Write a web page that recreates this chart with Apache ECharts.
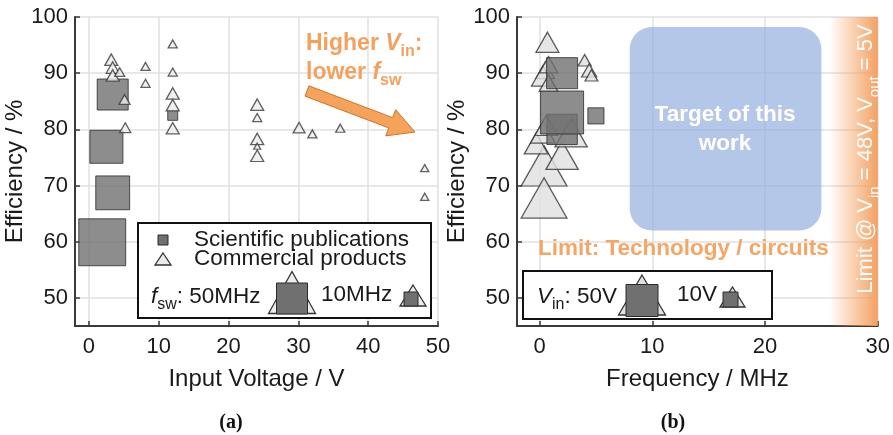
<!DOCTYPE html>
<html><head><meta charset="utf-8">
<script src="https://cdn.jsdelivr.net/npm/echarts/dist/echarts.min.js"></script>
<style>html,body{margin:0;padding:0;background:#fff}#c{width:893px;height:435px}</style>
</head><body><div id="c"></div>
<script>
// ---------- Panel (a): efficiency vs input voltage (marker size ~ f_sw) ----------
const sciVinA = [3.4, 2.5, 3.4, 1.9, 12.0];
const sciEffA = [86.2, 76.9, 68.7, 59.9, 82.5];
const sciFswA = [52, 59, 62, 119, 5.4];           // MHz
const comVinA = [3.2, 3.4, 3.4, 4.4, 5.1, 5.2, 8.1, 8.1, 12, 12, 12, 12, 12, 24.1, 24.1, 24.1, 24.1, 24.1, 30.1, 32, 36, 48.1, 48.1];
const comEffA = [92.4, 91.0, 89.6, 90.2, 85.3, 80.3, 91.2, 88.2, 95.2, 90.2, 86.4, 84.3, 80.2, 84.4, 82.1, 78.3, 77.0, 75.3, 80.3, 79.2, 80.2, 73.1, 68.0];
const comFswA = [3.9, 3.9, 3.9, 2.3, 2.8, 2.8, 1.9, 1.9, 1.9, 1.9, 3.9, 3.9, 3.9, 3.9, 1.9, 3.9, 1.1, 3.9, 3.3, 1.9, 1.9, 1.5, 1.5];

// ---------- Panel (b): efficiency vs switching frequency (marker size ~ Vin) ----------
const sciFreqB = [2.0, 2.0, 2.0, 5.0];
const sciEffB = [80.0, 83.0, 90.0, 82.4];
const sciVinB = [50, 100, 52, 14];                // V
const comFreqB = [0.4, 0.4, 2.0, 2.8, 0.7, 4.0, 4.4, 4.6, 0.5, 0.3, 0.8, 0.8, -0.3, 0.3, 0.6];
const comEffB = [73.5, 67.8, 75.4, 79.4, 95.5, 92.3, 90.5, 89.6, 90.5, 89.5, 91.5, 88.2, 77.5, 79.5, 80.7];
const comVinB = [48, 48, 24, 24, 12, 3.9, 5.2, 3.7, 8, 12, 8, 8, 13, 14, 12];

// target region (MHz, %) and technology limit band
const targetBox = [8, 25, 62, 98.2];
const limitBand = [25.7, 30, 45, 100];

const xTicksA = [0, 10, 20, 30, 40, 50];
const xTicksB = [0, 10, 20, 30];
const yTicks = [50, 60, 70, 80, 90, 100];

const FONT = '"Liberation Sans", Arial, sans-serif';
const ORANGE = '#f4a15d';
const zip3 = (a, b, c) => a.map((v, i) => [v, b[i], c[i]]);
const sqSize = v => 4.3 * Math.sqrt(v[2]);
const triSize = v => { const w = 6.6 * Math.sqrt(v[2]); return [w, 0.88 * w]; };

function xAxisCfg(gi, mx, name) {
  return {
    gridIndex: gi, type: 'value', min: -2, max: mx, minInterval: 10, maxInterval: 10,
    name: name, nameLocation: 'middle', nameGap: 41,
    nameTextStyle: { fontSize: 24, color: '#1a1a1a', fontFamily: FONT },
    axisLine: { show: true, onZero: false, lineStyle: { color: '#3a3a3a', width: 2 } },
    axisTick: { show: true, inside: true, length: 5, lineStyle: { color: '#3a3a3a', width: 1.5 } },
    axisLabel: { showMinLabel: false, fontSize: 22, color: '#1a1a1a', margin: 10, fontFamily: FONT },
    splitLine: { show: true, lineStyle: { color: '#e0e0e0', width: 1.5 } }
  };
}
function yAxisCfg(gi) {
  return {
    gridIndex: gi, type: 'value', min: 45, max: 100, minInterval: 10, maxInterval: 10,
    name: 'Efficiency / %', nameLocation: 'middle', nameGap: 48, nameRotate: 90,
    nameTextStyle: { fontSize: 24, color: '#1a1a1a', fontFamily: FONT },
    axisLine: { show: true, onZero: false, lineStyle: { color: '#3a3a3a', width: 2 } },
    axisTick: { show: true, inside: true, length: 5, lineStyle: { color: '#3a3a3a', width: 1.5 } },
    axisLabel: { showMinLabel: false, fontSize: 22, color: '#1a1a1a', margin: 7, fontFamily: FONT },
    splitLine: { show: true, lineStyle: { color: '#e0e0e0', width: 1.5 } }
  };
}

const sqStyle = { color: '#707070', borderColor: '#2b2b2b', borderWidth: 1 };
const triStyleA = { color: '#ececec', borderColor: '#3a3a3a', borderWidth: 1.3 };
const triStyleB = { color: '#e0e0e0', borderColor: '#333', borderWidth: 1.3 };

function rectItem(fillFn, r) {
  return function (params, api) {
    const p0 = api.coord([api.value(0), api.value(3)]);
    const p1 = api.coord([api.value(1), api.value(2)]);
    return { type: 'rect', shape: { x: p0[0], y: p0[1], width: p1[0] - p0[0], height: p1[1] - p0[1], r: r },
      style: { fill: fillFn(p0, p1) } };
  };
}

// ---------- decorations (legend boxes, annotations) ----------
function tri(cx, cy, w, h, fill) {
  return { type: 'polygon', shape: { points: [[cx, cy - h / 2], [cx + w / 2, cy + h / 2], [cx - w / 2, cy + h / 2]] },
    style: { fill: fill, stroke: '#333', lineWidth: 1.3 } };
}
function sq(cx, cy, s) {
  return { type: 'rect', shape: { x: cx - s / 2, y: cy - s / 2, width: s, height: s },
    style: { fill: '#707070', stroke: '#2b2b2b', lineWidth: 1 } };
}
function txt(x, y, text, opt) {
  return Object.assign({ type: 'text', style: Object.assign({ x: x, y: y, text: text, font: '22.5px ' + FONT, fill: '#1a1a1a',
    align: 'left', verticalAlign: 'middle' }, opt || {}) });
}
function arrow(x0, y0, x1, y1, hw, headW, headL) {
  const dx = x1 - x0, dy = y1 - y0, L = Math.hypot(dx, dy), ux = dx / L, uy = dy / L, px = -uy, py = ux;
  const bx = x1 - ux * headL, by = y1 - uy * headL;
  return { type: 'polygon', shape: { points: [
    [x0 + px * hw, y0 + py * hw], [bx + px * hw, by + py * hw], [bx + px * headW, by + py * headW], [x1, y1],
    [bx - px * headW, by - py * headW], [bx - px * hw, by - py * hw], [x0 - px * hw, y0 - py * hw]] },
    style: { fill: '#f5a25a', stroke: '#c9772f', lineWidth: 1 } };
}
const subRich = (size, color, weight) => ({
  n: { fontSize: size, fontWeight: weight, fill: color, fontFamily: FONT, verticalAlign: 'middle', lineHeight: 32 },
  i: { fontSize: size, fontWeight: weight, fontStyle: 'italic', fill: color, fontFamily: FONT, verticalAlign: 'middle', lineHeight: 32 },
  s: { fontSize: Math.round(size * 0.7), fontWeight: weight, fill: color, fontFamily: FONT, verticalAlign: 'bottom', lineHeight: 32 }
});

const graphics = [
  // panel (a) annotation
  { type: 'text', z: 50, style: { x: 306, y: 44, text: '{n|Higher }{i|V}{s|in}{n|:}', rich: subRich(23, ORANGE, 'bold'), verticalAlign: 'middle' } },
  { type: 'text', z: 50, style: { x: 306, y: 73, text: '{n|lower }{i|f}{s|sw}', rich: subRich(23, ORANGE, 'bold'), verticalAlign: 'middle' } },
  Object.assign(arrow(307, 91, 415, 132, 5.5, 14, 26), { z: 50 }),
  // panel (a) legend
  { type: 'rect', z: 60, shape: { x: 138, y: 223, width: 293, height: 95 }, style: { fill: '#fff', stroke: '#111', lineWidth: 2 } },
  Object.assign(sq(163, 240, 10), { z: 61 }),
  Object.assign(tri(163, 259, 16, 12, '#ececec'), { z: 61 }),
  Object.assign(txt(194, 240, 'Scientific publications'), { z: 61 }),
  Object.assign(txt(194, 259, 'Commercial products'), { z: 61 }),
  { type: 'text', z: 61, style: { x: 151, y: 297, text: '{i|f}{s|sw}{n|: 50MHz}', rich: subRich(22.5, '#1a1a1a', 'normal'), verticalAlign: 'middle' } },
  Object.assign(tri(292, 292.5, 47, 42, '#ececec'), { z: 61 }),
  Object.assign(sq(292, 298.5, 31), { z: 62 }),
  Object.assign(txt(321, 295, '10MHz'), { z: 61 }),
  Object.assign(tri(413, 295.5, 26, 21, '#ececec'), { z: 61 }),
  Object.assign(sq(411, 299, 14), { z: 62 }),
  // panel (b) texts
  { type: 'text', z: 40, style: { x: 725, y: 115, text: 'Target of this', font: 'bold 22.5px ' + FONT, fill: '#fff', align: 'center', verticalAlign: 'middle' } },
  { type: 'text', z: 40, style: { x: 725, y: 144, text: 'work', font: 'bold 22.5px ' + FONT, fill: '#fff', align: 'center', verticalAlign: 'middle' } },
  { type: 'text', z: 40, style: { x: 538, y: 249, text: 'Limit: Technology / circuits', font: 'bold 22.5px ' + FONT, fill: '#f5a664', align: 'left', verticalAlign: 'middle' } },
  { type: 'text', z: 40, x: 866, y: 159, rotation: Math.PI / 2,
    style: { x: 0, y: 0, text: '{n|Limit @ V}{s|in}{n| = 48V, V}{s|out}{n| = 5V}', rich: subRich(22, '#fff', 'normal'), align: 'center', verticalAlign: 'middle' } },
  // panel (b) legend
  { type: 'rect', z: 60, shape: { x: 523, y: 271, width: 249, height: 48 }, style: { fill: '#fff', stroke: '#111', lineWidth: 2 } },
  { type: 'text', z: 61, style: { x: 537, y: 297, text: '{i|V}{s|in}{n|: 50V}', rich: subRich(22.5, '#1a1a1a', 'normal'), verticalAlign: 'middle' } },
  Object.assign(tri(642, 295, 47, 40, '#e0e0e0'), { z: 61 }),
  Object.assign(sq(642, 300.5, 32), { z: 62 }),
  Object.assign(txt(677, 295, '10V'), { z: 61 }),
  Object.assign(tri(732.5, 297, 25, 20, '#e0e0e0'), { z: 61 }),
  Object.assign(sq(730.5, 299.5, 15), { z: 62 }),
  // captions
  { type: 'text', style: { x: 231, y: 423, text: '(a)', font: 'bold 20px "Liberation Serif", "Times New Roman", serif', fill: '#111', align: 'center', verticalAlign: 'middle' } },
  { type: 'text', style: { x: 673, y: 423, text: '(b)', font: 'bold 20px "Liberation Serif", "Times New Roman", serif', fill: '#111', align: 'center', verticalAlign: 'middle' } }
];

const chart = echarts.init(document.getElementById('c'), null, { renderer: 'canvas' });
chart.setOption({
  animation: false,
  backgroundColor: '#fff',
  textStyle: { fontFamily: FONT },
  grid: [
    { left: 75, right: 893 - 438, top: 17, bottom: 435 - 326, containLabel: false },
    { left: 517, right: 893 - 878, top: 17, bottom: 435 - 326, containLabel: false }
  ],
  xAxis: [xAxisCfg(0, 50, 'Input Voltage / V'), xAxisCfg(1, 30, 'Frequency / MHz')],
  yAxis: [yAxisCfg(0), yAxisCfg(1)],
  series: [
    { name: 'Scientific publications', type: 'scatter', xAxisIndex: 0, yAxisIndex: 0, symbol: 'rect', z: 3,
      symbolSize: sqSize, itemStyle: sqStyle, data: zip3(sciVinA, sciEffA, sciFswA) },
    { name: 'Commercial products', type: 'scatter', xAxisIndex: 0, yAxisIndex: 0, symbol: 'triangle', z: 4,
      symbolSize: triSize, itemStyle: triStyleA, data: zip3(comVinA, comEffA, comFswA) },
    { type: 'custom', xAxisIndex: 1, yAxisIndex: 1, z: 1, silent: true, clip: true,
      encode: { x: [0, 1], y: [2, 3] },
      renderItem: rectItem((p0, p1) => new echarts.graphic.LinearGradient(0, 0, 1, 0, [
        { offset: 0, color: 'rgba(244,160,95,0)' }, { offset: 0.5, color: 'rgba(244,160,95,0.5)' }, { offset: 1, color: 'rgba(243,155,88,0.95)' }]), 0),
      data: [limitBand] },
    { type: 'custom', xAxisIndex: 1, yAxisIndex: 1, z: 2, silent: true,
      encode: { x: [0, 1], y: [2, 3] },
      renderItem: rectItem(() => 'rgba(150,175,222,0.7)', 22),
      data: [targetBox] },
    { name: 'Commercial products', type: 'scatter', xAxisIndex: 1, yAxisIndex: 1, symbol: 'triangle', z: 3,
      symbolSize: triSize, itemStyle: triStyleB, data: zip3(comFreqB, comEffB, comVinB) },
    { name: 'Scientific publications', type: 'scatter', xAxisIndex: 1, yAxisIndex: 1, symbol: 'rect', z: 4,
      symbolSize: sqSize, itemStyle: sqStyle, data: zip3(sciFreqB, sciEffB, sciVinB) }
  ],
  graphic: graphics
});
</script></body></html>
